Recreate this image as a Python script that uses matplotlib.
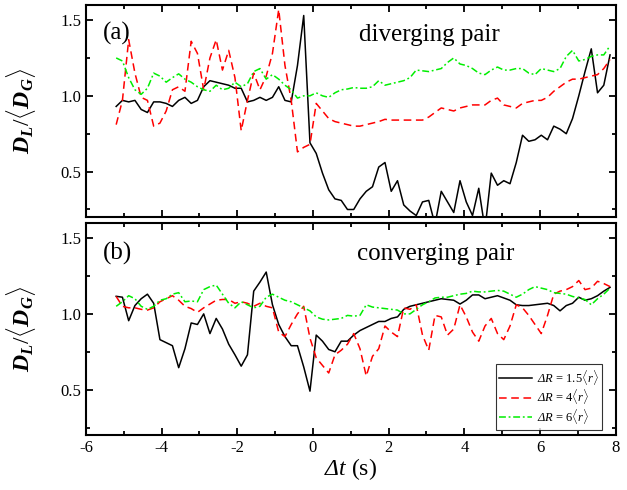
import numpy as np
import matplotlib
matplotlib.use('Agg')
import matplotlib.pyplot as plt
from matplotlib.ticker import MultipleLocator

plt.rcParams['font.family'] = ['Liberation Serif', 'DejaVu Serif']
plt.rcParams['axes.unicode_minus'] = False
plt.rcParams['mathtext.fontset'] = 'custom'
plt.rcParams['mathtext.rm'] = 'Liberation Serif'
plt.rcParams['mathtext.it'] = 'Liberation Serif:italic'
# sf slot used only to get an italic capital Delta
plt.rcParams['mathtext.sf'] = 'Liberation Serif:italic'
plt.rcParams['mathtext.bf'] = 'Liberation Serif:bold'
plt.rcParams['mathtext.bfit'] = 'Liberation Serif:italic:bold'

# sample times (s), 80 samples from -5.2 to 7.85
t = np.linspace(-5.2, 7.85, 80)

# (a) diverging pair
div_15 = [0.93, 0.97, 0.96, 0.97, 0.91, 0.89, 0.96, 0.96, 0.95, 0.93,
          0.97, 0.99, 0.95, 0.97, 1.06, 1.10, 1.09, 1.08, 1.07, 1.05,
          1.05, 0.96, 0.97, 0.99, 0.97, 0.99, 1.06, 0.97, 0.96, 1.20,
          1.53, 0.69, 0.62, 0.49, 0.38, 0.32, 0.31, 0.25, 0.25, 0.32,
          0.37, 0.40, 0.53, 0.56, 0.37, 0.44, 0.28, 0.24, 0.21, 0.30,
          0.31, 0.15, 0.37, 0.30, 0.23, 0.44, 0.30, 0.21, 0.39, 0.12,
          0.49, 0.41, 0.44, 0.42, 0.56, 0.74, 0.70, 0.71, 0.74, 0.71,
          0.80, 0.78, 0.75, 0.85, 1.00, 1.16, 1.31, 1.02, 1.07, 1.27]
div_4 = [0.81, 0.97, 1.37, 1.15, 0.99, 0.97, 0.80, 0.82, 0.90, 1.04,
         1.06, 1.03, 1.36, 1.28, 1.04, 1.25, 1.37, 1.17, 1.30, 1.12,
         0.77, 0.97, 1.15, 1.04, 1.13, 1.28, 1.57, 1.20, 0.97, 0.63,
         0.66, 0.68, 0.95, 0.90, 0.85, 0.83, 0.82, 0.81, 0.80, 0.80,
         0.81, 0.82, 0.83, 0.845, 0.84, 0.84, 0.84, 0.84, 0.84, 0.84,
         0.86, 0.89, 0.92, 0.91, 0.90, 0.92, 0.93, 0.94, 0.94, 0.94,
         0.97, 0.985, 0.94, 0.93, 0.92, 0.95, 0.96, 0.97, 0.97, 0.99,
         1.03, 1.06, 1.09, 1.11, 1.11, 1.12, 1.13, 1.14, 1.18, 1.24]
div_6 = [1.25, 1.23, 1.12, 1.04, 1.01, 1.05, 1.15, 1.13, 1.09, 1.12,
         1.145, 1.11, 1.09, 1.06, 1.04, 1.03, 1.07, 1.04, 1.05, 1.09,
         1.06, 1.08, 1.16, 1.18, 1.11, 1.14, 1.11, 1.07, 1.04, 0.985,
         1.00, 1.00, 1.02, 1.00, 0.99, 1.02, 1.04, 1.045, 1.055, 1.05,
         1.05, 1.06, 1.10, 1.07, 1.08, 1.09, 1.10, 1.12, 1.17, 1.165,
         1.16, 1.17, 1.18, 1.22, 1.25, 1.21, 1.20, 1.18, 1.15, 1.14,
         1.17, 1.19, 1.17, 1.17, 1.18, 1.18, 1.15, 1.14, 1.18, 1.17,
         1.16, 1.18, 1.26, 1.30, 1.23, 1.24, 1.26, 1.27, 1.27, 1.33]

# (b) converging pair
conv_15 = [1.116, 1.11, 0.955, 1.055, 1.10, 1.13, 1.07, 0.83, 0.81, 0.79,
           0.645, 0.77, 0.94, 0.93, 1.00, 0.87, 0.97, 0.90, 0.80, 0.73,
           0.655, 0.73, 1.15, 1.21, 1.276, 1.06, 0.93, 0.85, 0.79, 0.79,
           0.65, 0.49, 0.86, 0.82, 0.765, 0.75, 0.82, 0.82, 0.86, 0.89,
           0.91, 0.93, 0.95, 0.95, 0.97, 0.98, 1.03, 1.05, 1.06, 1.07,
           1.08, 1.09, 1.10, 1.095, 1.09, 1.065, 1.09, 1.125, 1.125, 1.10,
           1.11, 1.12, 1.105, 1.09, 1.06, 1.055, 1.055, 1.06, 1.065, 1.07,
           1.055, 1.02, 1.055, 1.07, 1.11, 1.09, 1.10, 1.12, 1.15, 1.175]
conv_4 = [1.115, 1.05, 1.04, 1.04, 1.03, 1.025, 1.04, 1.08, 1.10, 1.12,
          1.09, 1.05, 1.035, 1.01, 1.04, 1.065, 1.09, 1.095, 1.095, 1.07,
          1.08, 1.07, 1.05, 1.07, 1.05, 1.04, 0.88, 0.85, 0.93, 1.00,
          1.05, 0.84, 0.71, 0.66, 0.61, 0.73, 0.76, 0.80, 0.87, 0.77,
          0.59, 0.72, 0.77, 0.92, 0.88, 0.85, 1.04, 1.03, 1.06, 0.86,
          0.76, 0.99, 0.98, 0.86, 0.90, 1.06, 0.98, 0.88, 0.82, 0.92,
          0.97, 0.87, 0.83, 0.92, 1.06, 1.04, 0.99, 0.93, 0.87, 0.99,
          1.13, 1.15, 1.16, 1.18, 1.22, 1.16, 1.17, 1.215, 1.20, 1.18]
conv_6 = [1.05, 1.08, 1.12, 1.10, 1.05, 1.03, 1.05, 1.09, 1.10, 1.13,
          1.14, 1.08, 1.085, 1.08, 1.16, 1.18, 1.19, 1.13, 1.07, 1.04,
          1.08, 1.06, 1.04, 1.05, 1.11, 1.13, 1.11, 1.09, 1.08, 1.06,
          1.04, 1.02, 0.98, 0.965, 0.96, 0.965, 0.97, 0.99, 0.985, 0.99,
          1.06, 1.045, 1.04, 1.035, 1.03, 1.025, 1.00, 1.00, 1.03, 1.06,
          1.08, 1.105, 1.11, 1.11, 1.12, 1.13, 1.135, 1.15, 1.145, 1.145,
          1.15, 1.155, 1.15, 1.13, 1.11, 1.13, 1.16, 1.18, 1.17, 1.16,
          1.14, 1.135, 1.13, 1.115, 1.105, 1.095, 1.06, 1.10, 1.13, 1.17]

labels = [r'$\mathsf{\Delta}\mathit{R}$ = 1.5$\langle\mathit{r}\rangle$',
          r'$\mathsf{\Delta}\mathit{R}$ = 4$\langle\mathit{r}\rangle$',
          r'$\mathsf{\Delta}\mathit{R}$ = 6$\langle\mathit{r}\rangle$']

green = '#00ee00'

fig = plt.figure(figsize=(6.27, 4.9), dpi=100)
ax_a = fig.add_axes([0.137, 0.557, 0.845, 0.433])
ax_b = fig.add_axes([0.137, 0.112, 0.845, 0.433])


def style_axis(ax):
    ax.set_xlim(-6, 8)
    ax.set_ylim(0.2, 1.6)
    ax.xaxis.set_major_locator(MultipleLocator(2))
    ax.xaxis.set_minor_locator(MultipleLocator(1))
    ax.yaxis.set_major_locator(MultipleLocator(0.5))
    ax.yaxis.set_minor_locator(MultipleLocator(0.25))
    ax.tick_params(which='both', direction='in', top=True, right=True,
                   width=1.3, labelsize=12)
    ax.tick_params(which='major', length=5)
    ax.tick_params(which='minor', length=3)
    for s in ax.spines.values():
        s.set_linewidth(1.5)
    ax.set_ylabel(r'$\mathbfit{D_L}/\langle\mathbfit{D_G}\rangle$', fontsize=17)
    ax.yaxis.set_label_coords(-0.09, 0.5)


for ax, data in [(ax_a, (div_15, div_4, div_6)), (ax_b, (conv_15, conv_4, conv_6))]:
    ax.plot(t, data[0], color='black', lw=1.1, label=labels[0])
    ax.plot(t, data[1], color='red', lw=1.1, dashes=(5, 3), label=labels[1])
    ax.plot(t, data[2], color=green, lw=1.1, dashes=(4.5, 1.8, 1.2, 1.8), label=labels[2])
    style_axis(ax)

ax_a.tick_params(labelbottom=False)
ax_a.text(0.032, 0.865, '(a)', transform=ax_a.transAxes, fontsize=18, va='center')
ax_a.text(0.515, 0.858, 'diverging pair', transform=ax_a.transAxes, fontsize=18, va='center')
ax_b.text(0.032, 0.858, '(b)', transform=ax_b.transAxes, fontsize=18, va='center')
ax_b.text(0.512, 0.855, 'converging pair', transform=ax_b.transAxes, fontsize=18, va='center')

ax_b.set_xlabel(r'$\mathsf{\Delta}\mathit{t}$ (s)', fontsize=17, labelpad=0)

leg = ax_b.legend(loc='upper right', bbox_to_anchor=(0.975, 0.335), fontsize=9,
                  handlelength=2.6, fancybox=False, edgecolor='black',
                  borderpad=0.3, labelspacing=0.05, handletextpad=0.4,
                  borderaxespad=0)
leg.get_frame().set_linewidth(0.8)

plt.savefig('out.png', dpi=100)
